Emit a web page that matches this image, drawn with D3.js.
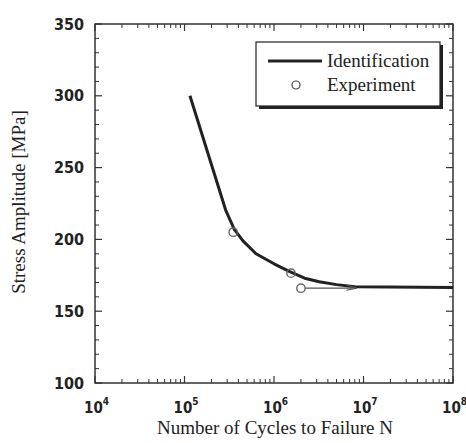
<!DOCTYPE html>
<html>
<head>
<meta charset="utf-8">
<script src="https://cdn.jsdelivr.net/npm/d3@7"></script>
<style>
  body { margin: 0; background: #fff; }
  .tick-label { font-family: 'Liberation Sans Narrow', 'Arial Narrow', 'DejaVu Sans Condensed', sans-serif; font-weight: bold; font-size: 15px; fill: #222; }
  .serif { font-family: 'Liberation Serif', 'Times New Roman', serif; fill: #222; }
</style>
</head>
<body>
<div id="chart"></div>
<script>
// S-N curve data
const curveN = [1.15e5, 2.9e5, 3.6e5, 4.5e5, 6.3e5, 1.0e6, 1.5e6, 2.2e6, 3.2e6, 5.0e6, 8.0e6, 1e8];
const curveS = [300, 220, 207, 199, 190, 183, 177.5, 173, 170.5, 168.5, 167, 166.5];

const expN = [3.5e5, 1.55e6, 2.0e6];
const expS = [205, 176.5, 166];

// runout arrow for the last specimen
const runoutFrom = [2.0e6, 166];
const runoutTo = [8.3e6, 166];

const yTicks = [100, 150, 200, 250, 300, 350];
const xDecades = [4, 5, 6, 7, 8];

const W = 466, H = 443;
const margin = {top: 24, right: 13, bottom: 60, left: 95};
const width = W - margin.left - margin.right;
const height = H - margin.top - margin.bottom;

const svg = d3.select('#chart').append('svg')
  .attr('width', W)
  .attr('height', H);

const g = svg.append('g')
  .attr('transform', `translate(${margin.left},${margin.top})`);

const x = d3.scaleLog().domain([1e4, 1e8]).range([0, width]);
const y = d3.scaleLinear().domain([100, 350]).range([height, 0]);

// frame
g.append('rect')
  .attr('width', width)
  .attr('height', height)
  .attr('fill', 'none')
  .attr('stroke', '#333')
  .attr('stroke-width', 1.5);

// x ticks (major + minor), drawn inward on bottom and top
const xMinor = [];
xDecades.slice(0, -1).forEach(e => {
  for (let k = 2; k <= 9; k++) xMinor.push(k * Math.pow(10, e));
});
const xMajor = xDecades.map(e => Math.pow(10, e));

[[0, -1], [height, 1]].forEach(([yy, dir]) => {
  g.selectAll(null).data(xMinor).join('line')
    .attr('x1', d => x(d)).attr('x2', d => x(d))
    .attr('y1', yy).attr('y2', yy - dir * 4)
    .attr('stroke', '#333').attr('stroke-width', 1);
  g.selectAll(null).data(xMajor).join('line')
    .attr('x1', d => x(d)).attr('x2', d => x(d))
    .attr('y1', yy).attr('y2', yy - dir * 7)
    .attr('stroke', '#333').attr('stroke-width', 1.2);
});

// y ticks
const yMinor = d3.range(110, 350, 10).filter(v => v % 50 !== 0);
[[0, 1], [width, -1]].forEach(([xx, dir]) => {
  g.selectAll(null).data(yMinor).join('line')
    .attr('x1', xx).attr('x2', xx + dir * 4)
    .attr('y1', d => y(d)).attr('y2', d => y(d))
    .attr('stroke', '#333').attr('stroke-width', 1);
  g.selectAll(null).data(yTicks).join('line')
    .attr('x1', xx).attr('x2', xx + dir * 7)
    .attr('y1', d => y(d)).attr('y2', d => y(d))
    .attr('stroke', '#333').attr('stroke-width', 1.2);
});

// y tick labels
g.selectAll('.ylab').data(yTicks).join('text')
  .attr('class', 'tick-label ylab')
  .attr('x', -11)
  .attr('y', d => y(d))
  .attr('dy', '0.35em')
  .attr('text-anchor', 'end')
  .style('font-size', '16px')
  .text(d => d);

// x tick labels 10^n
const xl = g.selectAll('.xlab').data(xDecades).join('text')
  .attr('class', 'tick-label xlab')
  .attr('x', d => x(Math.pow(10, d)) - 11)
  .attr('y', height + 30);
xl.append('tspan').text('10');
xl.append('tspan').attr('dy', -8).attr('font-size', 10).text(d => d);

// axis titles
g.append('text')
  .attr('class', 'serif')
  .attr('x', 275 - margin.left)
  .attr('y', 434 - margin.top)
  .attr('text-anchor', 'middle')
  .style('font-size', '19px')
  .text('Number of Cycles to Failure N');

g.append('text')
  .attr('class', 'serif')
  .attr('transform', `translate(${25 - margin.left},${202 - margin.top}) rotate(-90)`)
  .attr('text-anchor', 'middle')
  .style('font-size', '19px')
  .text('Stress Amplitude [MPa]');

// identification curve
const line = d3.line()
  .x(d => x(d[0]))
  .y(d => y(d[1]));

g.append('path')
  .datum(d3.zip(curveN, curveS))
  .attr('fill', 'none')
  .attr('stroke', '#222')
  .attr('stroke-width', 3)
  .attr('stroke-linejoin', 'round')
  .attr('d', line);

// runout arrow
svg.append('defs').append('marker')
  .attr('id', 'arrow')
  .attr('viewBox', '0 0 10 10')
  .attr('refX', 10).attr('refY', 5)
  .attr('markerWidth', 12).attr('markerHeight', 10)
  .attr('markerUnits', 'userSpaceOnUse')
  .attr('orient', 'auto')
  .append('path')
  .attr('d', 'M0,1.5 L10,5 L0,7')
  .attr('fill', 'none')
  .attr('stroke', '#555')
  .attr('stroke-width', 1.2);

g.append('line')
  .attr('x1', x(runoutFrom[0]) + 4).attr('y1', y(runoutFrom[1]))
  .attr('x2', x(runoutTo[0])).attr('y2', y(runoutTo[1]))
  .attr('stroke', '#555')
  .attr('stroke-width', 1.2)
  .attr('marker-end', 'url(#arrow)');

// experiment points
g.selectAll('.exp').data(d3.zip(expN, expS)).join('circle')
  .attr('class', 'exp')
  .attr('cx', d => x(d[0]))
  .attr('cy', d => y(d[1]))
  .attr('r', 4.2)
  .attr('fill', 'none')
  .attr('stroke', '#666')
  .attr('stroke-width', 1.4);

// legend with drop shadow
const lg = svg.append('g').attr('transform', 'translate(256,42)');
lg.append('rect')
  .attr('x', 3).attr('y', 3)
  .attr('width', 184).attr('height', 64)
  .attr('fill', '#222');
lg.append('rect')
  .attr('width', 184).attr('height', 64)
  .attr('fill', '#fff')
  .attr('stroke', '#222')
  .attr('stroke-width', 1.2);
lg.append('line')
  .attr('x1', 12).attr('x2', 66)
  .attr('y1', 19).attr('y2', 19)
  .attr('stroke', '#222').attr('stroke-width', 3);
lg.append('circle')
  .attr('cx', 40).attr('cy', 43).attr('r', 4)
  .attr('fill', 'none').attr('stroke', '#444').attr('stroke-width', 1.2);
lg.append('text').attr('class', 'serif')
  .attr('x', 71).attr('y', 25)
  .style('font-size', '19px')
  .text('Identification');
lg.append('text').attr('class', 'serif')
  .attr('x', 71).attr('y', 49)
  .style('font-size', '19px')
  .text('Experiment');
</script>
</body>
</html>
